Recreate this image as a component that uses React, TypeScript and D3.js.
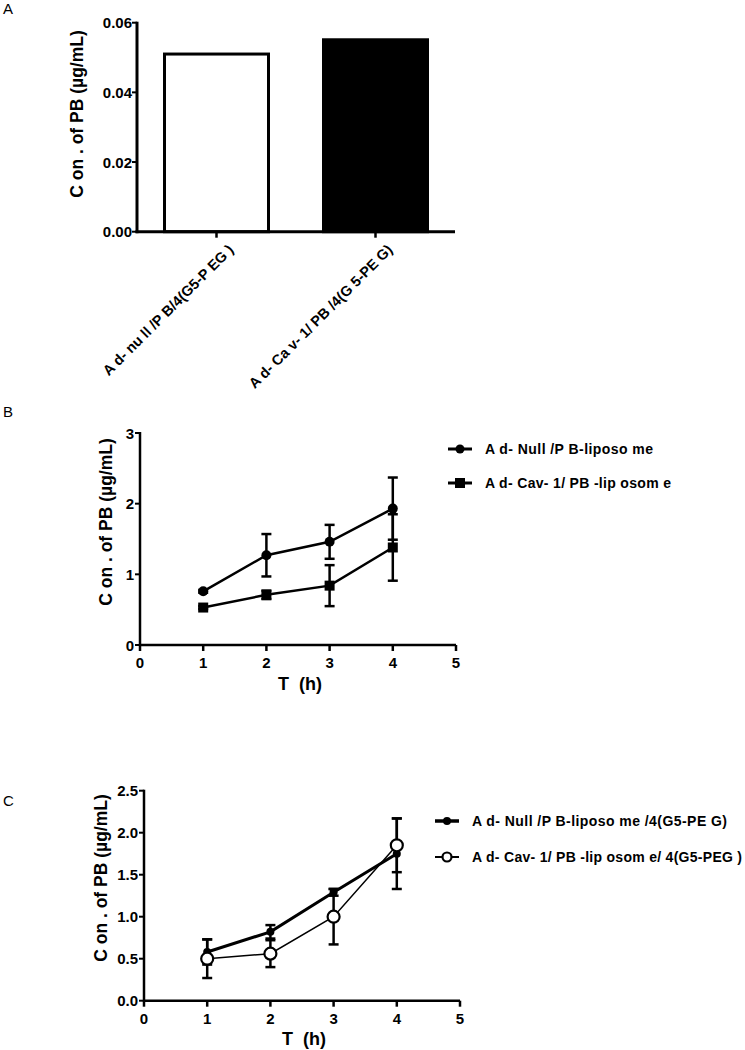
import React from "react";
import * as d3 from "d3";

// Panel A data
const barCategories = ["A d- nu ll /P B/4(G5-P EG )", "A d- Ca v- 1/ PB /4(G 5-PE G)"];
const barValues = [0.051, 0.0551];
const barFills = ["#ffffff", "#000000"];
const barYTicks = [0, 0.02, 0.04, 0.06];

// Panel B data
const timesB = [1, 2, 3, 4];
const nullLipo = [0.76, 1.27, 1.46, 1.93];
const nullLipoErr = [0.02, 0.3, 0.24, 0.44];
const cavLipo = [0.53, 0.71, 0.84, 1.38];
const cavLipoErr = [0.02, 0.06, 0.29, 0.47];
const legendB = ["A d- Null /P B-liposo me", "A d- Cav- 1/ PB -lip osom e"];
const yTicksB = [0, 1, 2, 3];
const xTicks = [0, 1, 2, 3, 4, 5];

// Panel C data
const timesC = [1, 2, 3, 4];
const nullPeg = [0.58, 0.82, 1.29, 1.75];
const nullPegErr = [0.15, 0.08, 0.04, 0.42];
const cavPeg = [0.5, 0.56, 1.0, 1.85];
const cavPegErr = [0.23, 0.16, 0.33, 0.32];
const legendC = ["A d- Null /P B-liposo me /4(G5-PE G)", "A d- Cav- 1/ PB -lip osom e/ 4(G5-PEG )"];
const yTicksC = [0, 0.5, 1.0, 1.5, 2.0, 2.5];

const yTitle = "C on . of PB (µg/mL)";
const xTitle = "T  (h)";
const FONT = "'Liberation Sans', Arial, sans-serif";

function PanelA() {
  const y = d3.scaleLinear().domain([0, 0.06]).range([231.7, 22.7]);
  const x = d3.scalePoint<string>().domain(barCategories).range([137, 455]).padding(0.5);
  const bw = 104;
  return (
    <g>
      <text x={3} y={14} fontSize={15} fontFamily={FONT}>A</text>
      {barCategories.map((c, i) => (
        <rect key={c} x={x(c)! - bw / 2} y={y(barValues[i])} width={bw} height={y(0) - y(barValues[i])}
          fill={barFills[i]} stroke="#000" strokeWidth={3} />
      ))}
      <line x1={137} x2={137} y1={y(0.06) - 1} y2={y(0) + 1.5} stroke="#000" strokeWidth={3} />
      <line x1={135.5} x2={455} y1={y(0)} y2={y(0)} stroke="#000" strokeWidth={3} />
      {barYTicks.map((t) => (
        <g key={t}>
          <line x1={132} x2={137} y1={y(t)} y2={y(t)} stroke="#000" strokeWidth={2} />
          <text x={132} y={y(t) + 5.5} textAnchor="end" fontSize={15} fontWeight="bold" fontFamily={FONT}>{t.toFixed(2)}</text>
        </g>
      ))}
      {barCategories.map((c) => (
        <g key={c}>
          <line x1={x(c)!} x2={x(c)!} y1={y(0)} y2={y(0) + 6} stroke="#000" strokeWidth={2.5} />
          <text transform={`translate(${x(c)! + 18},${y(0) + 19}) rotate(-45)`} textAnchor="end"
            fontSize={14.5} fontWeight="bold" fontFamily={FONT}>{c}</text>
        </g>
      ))}
      <text transform={`translate(83,${114}) rotate(-90)`} textAnchor="middle" fontSize={17.5} fontWeight="bold" fontFamily={FONT}>{yTitle}</text>
    </g>
  );
}

type Series = { vals: number[]; err: number[]; marker: "circle" | "square" | "dot" | "open"; width: number };

function LinePanel(props: {
  label: string; labelY: number; x0: number; y0: number; yTop: number; yMax: number; ticks: number[];
  fmt: (v: number) => string; series: Series[]; times: number[]; legend: string[]; legendLen: number[];
  legendX: number; legendY: number[]; titleX: number; titleY: number; yTitleX: number; yTitleY: number;
}) {
  const { x0, y0, yTop, yMax } = props;
  const x = d3.scaleLinear().domain([0, 5]).range([x0, x0 + 316]);
  const y = d3.scaleLinear().domain([0, yMax]).range([y0, yTop]);
  const line = d3.line<number>().x((_, i) => x(props.times[i])).y((v) => y(v));
  const marker = (m: Series["marker"], cx: number, cy: number, key: string, legend = false) => {
    if (m === "circle") return <circle key={key} cx={cx} cy={cy} r={legend ? 4.5 : 5} fill="#000" />;
    if (m === "dot") return <circle key={key} cx={cx} cy={cy} r={4} fill="#000" />;
    if (m === "open") return <circle key={key} cx={cx} cy={cy} r={legend ? 4.5 : 6} fill="#fff" stroke="#000" strokeWidth={2.2} />;
    return <rect key={key} x={cx - 5} y={cy - 5} width={10} height={10} fill="#000" />;
  };
  return (
    <g>
      <text x={3} y={props.labelY} fontSize={15} fontFamily={FONT}>{props.label}</text>
      <line x1={x0} x2={x0} y1={yTop - 1} y2={y0 + 1} stroke="#000" strokeWidth={2.5} />
      <line x1={x0 - 1} x2={x(5)} y1={y0} y2={y0} stroke="#000" strokeWidth={2.5} />
      {props.ticks.map((t) => (
        <g key={t}>
          <line x1={x0 - 5} x2={x0} y1={y(t)} y2={y(t)} stroke="#000" strokeWidth={2} />
          <text x={x0 - 6} y={y(t) + 5.5} textAnchor="end" fontSize={15} fontWeight="bold" fontFamily={FONT}>{props.fmt(t)}</text>
        </g>
      ))}
      {xTicks.map((t) => (
        <g key={t}>
          <line x1={x(t)} x2={x(t)} y1={y0} y2={y0 + 6} stroke="#000" strokeWidth={2.5} />
          <text x={x(t)} y={y0 + 23} textAnchor="middle" fontSize={15} fontWeight="bold" fontFamily={FONT}>{t}</text>
        </g>
      ))}
      <text x={props.titleX} y={props.titleY} textAnchor="middle" fontSize={18} fontWeight="bold" fontFamily={FONT} style={{ whiteSpace: "pre" }}>{xTitle}</text>
      <text transform={`translate(${props.yTitleX},${props.yTitleY}) rotate(-90)`} textAnchor="middle" fontSize={17.5} fontWeight="bold" fontFamily={FONT}>{yTitle}</text>
      {props.series.map((s, si) => (
        <g key={si}>
          {s.vals.map((v, i) => (
            <g key={i}>
              <line x1={x(props.times[i])} x2={x(props.times[i])} y1={y(v + s.err[i])} y2={y(v - s.err[i])} stroke="#000" strokeWidth={2.5} />
              <line x1={x(props.times[i]) - 5} x2={x(props.times[i]) + 5} y1={y(v + s.err[i])} y2={y(v + s.err[i])} stroke="#000" strokeWidth={2.5} />
              <line x1={x(props.times[i]) - 5} x2={x(props.times[i]) + 5} y1={y(v - s.err[i])} y2={y(v - s.err[i])} stroke="#000" strokeWidth={2.5} />
            </g>
          ))}
          <path d={line(s.vals)!} fill="none" stroke="#000" strokeWidth={s.width} />
        </g>
      ))}
      {props.series.map((s, si) => (
        <g key={"m" + si}>{s.vals.map((v, i) => marker(s.marker, x(props.times[i]), y(v), String(i)))}</g>
      ))}
      {props.legend.map((l, i) => (
        <g key={l}>
          <line x1={props.legendX} x2={props.legendX + 24} y1={props.legendY[i]} y2={props.legendY[i]} stroke="#000" strokeWidth={props.series[i].width + 0.5} />
          {marker(props.series[i].marker, props.legendX + 12, props.legendY[i], "lg", true)}
          <text x={props.legendX + 37} y={props.legendY[i] + 5} fontSize={14} textLength={props.legendLen[i]}
            lengthAdjust="spacing" fontWeight="bold" fontFamily={FONT}>{l}</text>
        </g>
      ))}
    </g>
  );
}

export default function App() {
  return (
    <svg width={745} height={1050} style={{ position: "absolute", left: 0, top: 0, background: "#fff" }}>
      <rect width={745} height={1050} fill="#fff" />
      <PanelA />
      <LinePanel label="B" labelY={417} x0={140} y0={645} yTop={433} yMax={3} ticks={yTicksB}
        fmt={(v) => String(v)} times={timesB}
        series={[
          { vals: nullLipo, err: nullLipoErr, marker: "circle", width: 2.5 },
          { vals: cavLipo, err: cavLipoErr, marker: "square", width: 2.5 },
        ]}
        legend={legendB} legendLen={[168, 186]} legendX={448} legendY={[449, 483]} titleX={300} titleY={690}
        yTitleX={112} yTitleY={522} />
      <LinePanel label="C" labelY={806} x0={144} y0={1000.7} yTop={790.7} yMax={2.5} ticks={yTicksC}
        fmt={(v) => v.toFixed(1)} times={timesC}
        series={[
          { vals: nullPeg, err: nullPegErr, marker: "dot", width: 3 },
          { vals: cavPeg, err: cavPegErr, marker: "open", width: 1.5 },
        ]}
        legend={legendC} legendLen={[255, 270]} legendX={435} legendY={[821, 857]} titleX={304} titleY={1045}
        yTitleX={107} yTitleY={878} />
    </svg>
  );
}
